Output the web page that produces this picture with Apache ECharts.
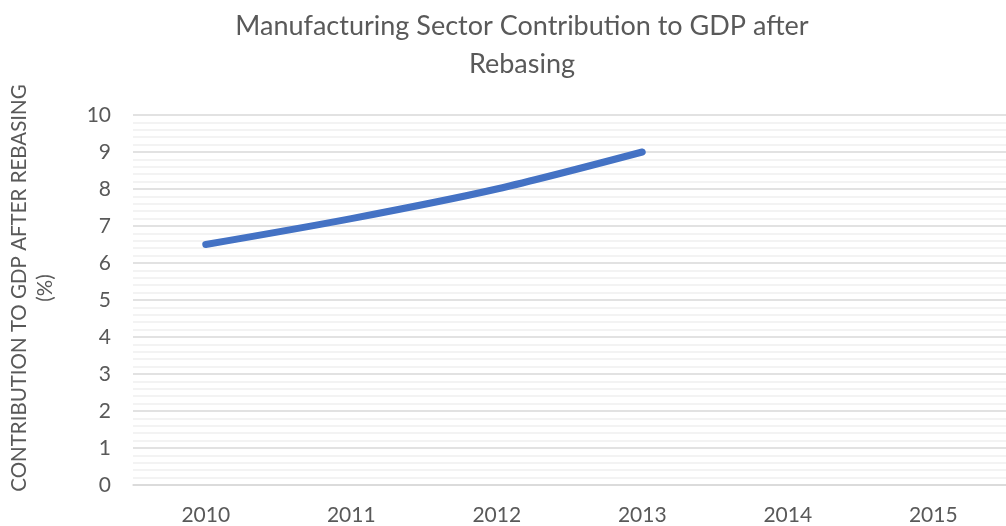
<!DOCTYPE html>
<html>
<head>
<meta charset="utf-8">
<script src="https://cdn.jsdelivr.net/npm/echarts@6/dist/echarts.min.js"></script>
<style>
  html, body { margin: 0; padding: 0; background: #ffffff; }
  #chart { width: 1006px; height: 526px; }
</style>
</head>
<body>
<div id="chart"></div>
<script>
// Years on the category axis
const years = ['2010', '2011', '2012', '2013', '2014', '2015'];
// Manufacturing share of GDP (%) after rebasing; no figures yet for 2014-2015
const contribution = [6.5, 7.2, 8.0, 9.0, null, null];
// Value axis range
const yMin = 0;
const yMax = 10;
const yStep = 1;

const textColor = '#595959';
const fontFamily = 'Lato, "Open Sans", sans-serif';

const chart = echarts.init(document.getElementById('chart'), null, { renderer: 'canvas' });
chart.setOption({
  animation: false,
  backgroundColor: '#ffffff',
  title: {
    text: 'Manufacturing Sector Contribution to GDP after\nRebasing',
    left: 517,
    textAlign: 'center',
    top: 2,
    textStyle: {
      color: textColor,
      fontFamily: fontFamily,
      fontWeight: 'normal',
      fontSize: 27,
      lineHeight: 38
    }
  },
  grid: {
    left: 133,
    top: 115,
    width: 885,
    height: 371,
    containLabel: false
  },
  xAxis: {
    type: 'category',
    data: years,
    boundaryGap: true,
    axisLine: { show: true, lineStyle: { color: '#d9d9d9', width: 1.5 } },
    axisTick: { show: false },
    axisLabel: {
      color: textColor,
      fontFamily: fontFamily,
      fontSize: 21,
      margin: 20
    },
    splitLine: { show: false }
  },
  yAxis: {
    type: 'value',
    min: yMin,
    max: yMax,
    interval: yStep,
    minorTick: { show: false, splitNumber: 5 },
    minorSplitLine: { show: true, lineStyle: { color: '#f0f0f0', width: 1.5 } },
    splitLine: { show: true, lineStyle: { color: '#d9d9d9', width: 1.5 } },
    axisLine: { show: false },
    axisTick: { show: false },
    axisLabel: {
      color: textColor,
      fontFamily: fontFamily,
      fontSize: 21,
      margin: 22
    }
  },
  graphic: [{
    type: 'text',
    x: 32,
    y: 288,
    rotation: Math.PI / 2,
    style: {
      text: 'CONTRIBUTION TO GDP AFTER REBASING\n(%)',
      fill: textColor,
      font: '20.5px ' + fontFamily,
      textAlign: 'center',
      textVerticalAlign: 'middle',
      lineHeight: 26
    }
  }],
  series: [{
    type: 'line',
    data: contribution,
    smooth: 0.3,
    showSymbol: false,
    connectNulls: false,
    lineStyle: { color: '#4472C4', width: 7, cap: 'round', join: 'round' },
    itemStyle: { color: '#4472C4' }
  }]
});
</script>
</body>
</html>
